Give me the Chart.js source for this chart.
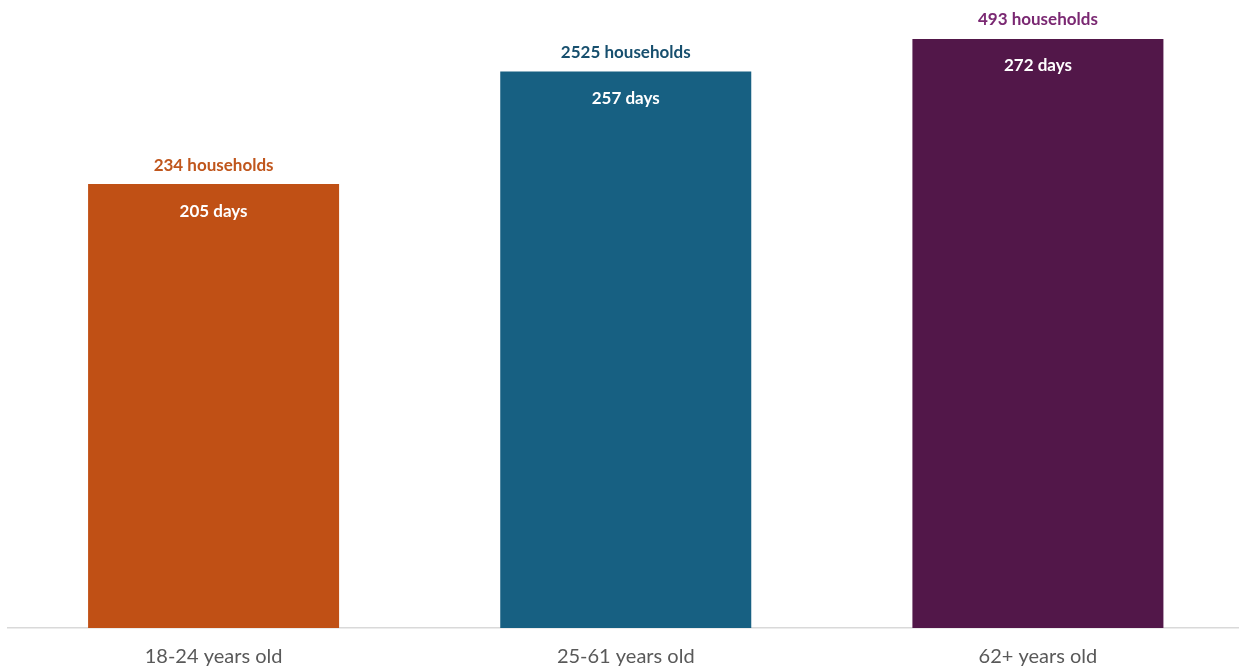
<!DOCTYPE html>
<html>
<head>
<meta charset="utf-8">
<script src="https://cdn.jsdelivr.net/npm/chart.js@4"></script>
<style>
  body { margin: 0; background: #fff; }
  #wrap { width: 1239px; height: 668px; overflow: hidden; }
</style>
</head>
<body>
<div id="wrap"><canvas id="grafiek" width="1244" height="668"></canvas></div>
<script>
// data
const categories = ['18-24 years old', '25-61 years old', '62+ years old'];
const days = [205, 257, 272];
const households = [234, 2525, 493];
const barColors = ['#C05015', '#176082', '#521749'];
const labelColors = ['#C0561C', '#174F6E', '#7A2872'];

// labels boven en in de balken
const labelPlugin = {
    id: 'barLabels',
    afterDatasetsDraw(chart) {
        const ctx = chart.ctx;
        const meta = chart.getDatasetMeta(0);
        ctx.save();
        ctx.textAlign = 'center';
        ctx.textBaseline = 'middle';
        ctx.font = 'bold 17px Lato';
        meta.data.forEach((bar, i) => {
            ctx.fillStyle = labelColors[i];
            ctx.fillText(households[i] + ' households', bar.x, bar.y - 19);
            ctx.fillStyle = '#ffffff';
            ctx.fillText(days[i] + ' days', bar.x, bar.y + 27);
        });
        ctx.restore();
    }
};

new Chart(document.getElementById('grafiek').getContext('2d'), {
    type: 'bar',
    data: {
        labels: categories,
        datasets: [{
            data: days,
            backgroundColor: barColors,
            barPercentage: 0.609,
            categoryPercentage: 1
        }]
    },
    options: {
        responsive: false,
        animation: false,
        layout: { padding: { left: 7.5, right: 0, top: 0, bottom: 0 } },
        plugins: { legend: { display: false }, tooltip: { enabled: false } },
        scales: {
            y: { display: false, min: 0, max: 290 },
            x: {
                grid: { display: false, drawTicks: false },
                border: { display: true, color: '#D9D9D9', width: 1.5 },
                ticks: { color: '#595959', font: { family: 'Lato', size: 20 }, padding: 17 },
                afterFit(scale) { scale.height = 40; }
            }
        }
    },
    plugins: [labelPlugin]
});
</script>
</body>
</html>
